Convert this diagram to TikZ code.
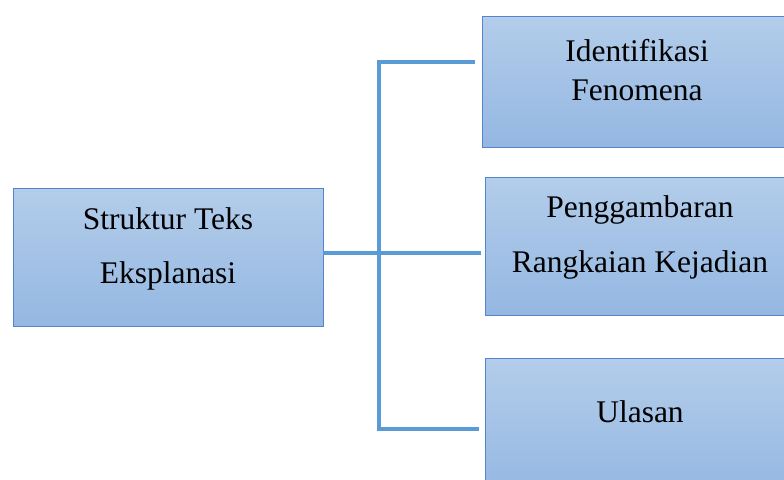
\documentclass[tikz,border=0pt]{standalone}
\usepackage{fontspec}
\setmainfont{Liberation Serif}
\definecolor{boxtop}{HTML}{B3CDEA}
\definecolor{boxbot}{HTML}{94B7E2}
\definecolor{boxline}{HTML}{5583CC}
\definecolor{conn}{HTML}{5B9BD5}
\begin{document}
\begin{tikzpicture}[x=1pt,y=-1pt,
  box/.style={draw=boxline, line width=1pt, top color=boxtop, bottom color=boxbot, inner sep=0pt, anchor=north west},
  txt/.style={font=\fontsize{31.5}{38}\selectfont, anchor=base, inner sep=0pt},
  connline/.style={draw=conn, line width=4pt}]
\useasboundingbox (0,0) rectangle (784,479);
\clip (0,0) rectangle (784,479);
\fill[white] (0,0) rectangle (784,479);
% boxes
\node[box, minimum width=310pt, minimum height=138pt] (L) at (13,188) {};
\node[box, minimum width=310pt, minimum height=131pt] (T) at (482,16) {};
\node[box, minimum width=310pt, minimum height=138pt] (M) at (485,177) {};
\node[box, minimum width=310pt, minimum height=138pt] (B) at (485,358) {};
% texts
\node[txt] (L1) at (168,229) {Struktur Teks};
\node[txt] (L2) at (168,283) {Eksplanasi};
\node[txt] (T1) at (637,61) {Identifikasi};
\node[txt] (T2) at (637,100) {Fenomena};
\node[txt] (M1) at (640,217) {Penggambaran};
\node[txt] (M2) at (640,272) {Rangkaian Kejadian};
\node[txt] (B1) at (640,422) {Ulasan};
% connectors
\coordinate (s) at (323,253);
\coordinate (j) at (379,253);
\coordinate (jt) at (379,62);
\coordinate (jb) at (379,429);
\coordinate (et) at (475,62);
\coordinate (em) at (481,253);
\coordinate (eb) at (479,429);
\draw[connline] (s) -- (em);
\draw[connline] (et) -- (jt) -- (jb) -- (eb);
\end{tikzpicture}
\end{document}
